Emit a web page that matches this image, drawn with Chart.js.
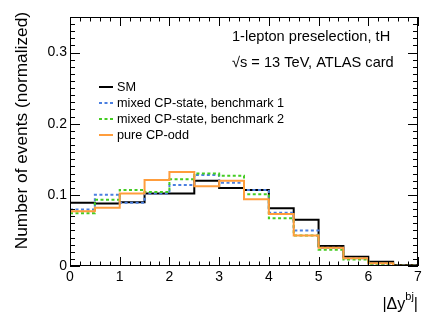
<!DOCTYPE html>
<html>
<head>
<meta charset="utf-8">
<script src="https://cdn.jsdelivr.net/npm/chart.js@4/dist/chart.umd.min.js"></script>
<style>
html,body{margin:0;padding:0;background:#fff;}
#wrap{width:441px;height:318px;position:relative;}
</style>
</head>
<body>
<div id="wrap"><canvas id="c" width="441" height="318"></canvas></div>
<script>
// bin edges (|Δy^bj|), 14 bins of 0.5
const binEdges = [0,0.5,1,1.5,2,2.5,3,3.5,4,4.5,5,5.5,6,6.5,7];
const seriesLabels = ["SM","mixed CP-state, benchmark 1","mixed CP-state, benchmark 2","pure CP-odd"];
const smValues   = [0.089,0.088,0.0895,0.102,0.102,0.120,0.1095,0.107,0.081,0.065,0.028,0.013,0.006,0.0015];
const bm1Values  = [0.0795,0.100,0.089,0.102,0.114,0.128,0.117,0.107,0.075,0.050,0.0255,0.011,0.003,0.0007];
const bm2Values  = [0.074,0.093,0.107,0.104,0.122,0.130,0.127,0.101,0.067,0.043,0.023,0.0093,0.003,0.0005];
const oddValues  = [0.077,0.082,0.102,0.121,0.132,0.112,0.120,0.094,0.073,0.043,0.0255,0.011,0.0037,0.0005];
const xTicks = [0,1,2,3,4,5,6,7];
const yTicks = [0,0.1,0.2,0.3];
const annotationLines = ["1-lepton preselection, tH", "\u221As = 13 TeV, ATLAS card"];
const yTitle = "Number of events (normalized)";

const FONT = "'Liberation Sans', Arial, Helvetica, sans-serif";

// points at left bin edges, plus the final right edge
function histPoints(vals){
  const pts = vals.map((v,i)=>({x:binEdges[i], y:v}));
  pts.push({x:binEdges[binEdges.length-1], y:vals[vals.length-1]});
  return pts;
}

const styles = [
  {color:'#000000', dash:[], order:3},
  {color:'#4a7fe0', dash:[3,2.5], order:2},
  {color:'#44cc22', dash:[3,2.5], order:1},
  {color:'#ff9d3c', dash:[], order:0}
];
const allVals = [smValues,bm1Values,bm2Values,oddValues];

const datasets = allVals.map((v,i)=>({
  label: seriesLabels[i],
  data: histPoints(v),
  stepped: 'before',
  borderColor: styles[i].color,
  borderDash: styles[i].dash,
  borderWidth: 2,
  pointRadius: 0,
  fill: false,
  order: styles[i].order
}));

const framePlugin = {
  id:'frame',
  afterDatasetsDraw(chart){
    const {ctx, chartArea:a, scales:{x, y}} = chart;
    ctx.save();
    ctx.strokeStyle = '#000';
    ctx.lineWidth = 1;
    ctx.strokeRect(a.left+0.5, a.top+0.5, a.right-a.left-1, a.bottom-a.top-1);
    ctx.beginPath();
    for (let k=0;k<=35;k++){
      const v = k*0.2;
      const px = Math.round(x.getPixelForValue(v))+0.5;
      const major = (k%5===0);
      const len = major ? 9 : 4.5;
      ctx.moveTo(px, a.bottom); ctx.lineTo(px, a.bottom-len);
      ctx.moveTo(px, a.top); ctx.lineTo(px, a.top+len);
    }
    for (let k=0;k<=35;k++){
      const v = k*0.01;
      const py = Math.round(y.getPixelForValue(v))+0.5;
      const major = (k%10===0);
      const len = major ? 10 : 5;
      ctx.moveTo(a.left, py); ctx.lineTo(a.left+len, py);
      ctx.moveTo(a.right, py); ctx.lineTo(a.right-len, py);
    }
    ctx.stroke();
    ctx.restore();
  },
  afterDraw(chart){
    const {ctx, chartArea:a} = chart;
    ctx.save();
    ctx.fillStyle = '#000';
    ctx.font = '14.6px ' + FONT;
    ctx.textBaseline = 'middle';
    ctx.textAlign = 'left';
    ctx.fillText(annotationLines[0], 232, 37);
    ctx.fillText(annotationLines[1], 232, 63);
    ctx.font = '12.7px ' + FONT;
    const ly0 = 87, dy = 16;
    chart.data.datasets.forEach((ds,i)=>{
      const yy = ly0 + i*dy;
      ctx.save();
      ctx.strokeStyle = ds.borderColor;
      ctx.lineWidth = 2;
      ctx.setLineDash(ds.borderDash || []);
      ctx.beginPath();
      ctx.moveTo(99, yy); ctx.lineTo(113, yy);
      ctx.stroke();
      ctx.restore();
      ctx.fillText(ds.label, 117, yy);
    });
    ctx.textAlign = 'left';
    ctx.textBaseline = 'alphabetic';
    ctx.font = '16px ' + FONT;
    const main = '|\u0394y';
    const sup = 'bj';
    const close = '|';
    const wMain = ctx.measureText(main).width;
    const wClose = ctx.measureText(close).width;
    ctx.font = '11px ' + FONT;
    const wSup = ctx.measureText(sup).width;
    const xRight = a.right;
    const x0 = xRight - wMain - wSup - wClose;
    const base = 309;
    ctx.font = '16px ' + FONT;
    ctx.fillText(main, x0, base);
    ctx.font = '11px ' + FONT;
    ctx.fillText(sup, x0 + wMain, base - 9);
    ctx.font = '16px ' + FONT;
    ctx.fillText(close, x0 + wMain + wSup, base);
    ctx.translate(27, a.top - 5);
    ctx.rotate(-Math.PI/2);
    ctx.font = '17.3px ' + FONT;
    ctx.textAlign = 'right';
    ctx.textBaseline = 'alphabetic';
    ctx.fillText(yTitle, 0, 0);
    ctx.restore();
  }
};

new Chart(document.getElementById('c'), {
  type:'line',
  data:{datasets},
  options:{
    responsive:false,
    animation:false,
    devicePixelRatio:1,
    layout:{padding:{left:0, right:23, top:17, bottom:0}},
    plugins:{legend:{display:false}, tooltip:{enabled:false}},
    scales:{
      x:{
        type:'linear', min:0, max:7,
        border:{display:false},
        grid:{display:false, drawTicks:false},
        afterFit(s){ s.height = 52; },
        afterBuildTicks(s){ s.ticks = xTicks.map(v=>({value:v})); },
        ticks:{font:{family:FONT, size:14}, color:'#000', padding:3, maxRotation:0, autoSkip:false,
          callback:(v)=>String(v)}
      },
      y:{
        type:'linear', min:0, max:0.35,
        border:{display:false},
        grid:{display:false, drawTicks:false},
        afterFit(s){ s.width = 70; },
        afterBuildTicks(s){ s.ticks = yTicks.map(v=>({value:v})); },
        ticks:{font:{family:FONT, size:14}, color:'#000', padding:3, autoSkip:false,
          callback:(v)=>String(Number(v.toFixed(2)))}
      }
    }
  },
  plugins:[framePlugin]
});
</script>
</body>
</html>
